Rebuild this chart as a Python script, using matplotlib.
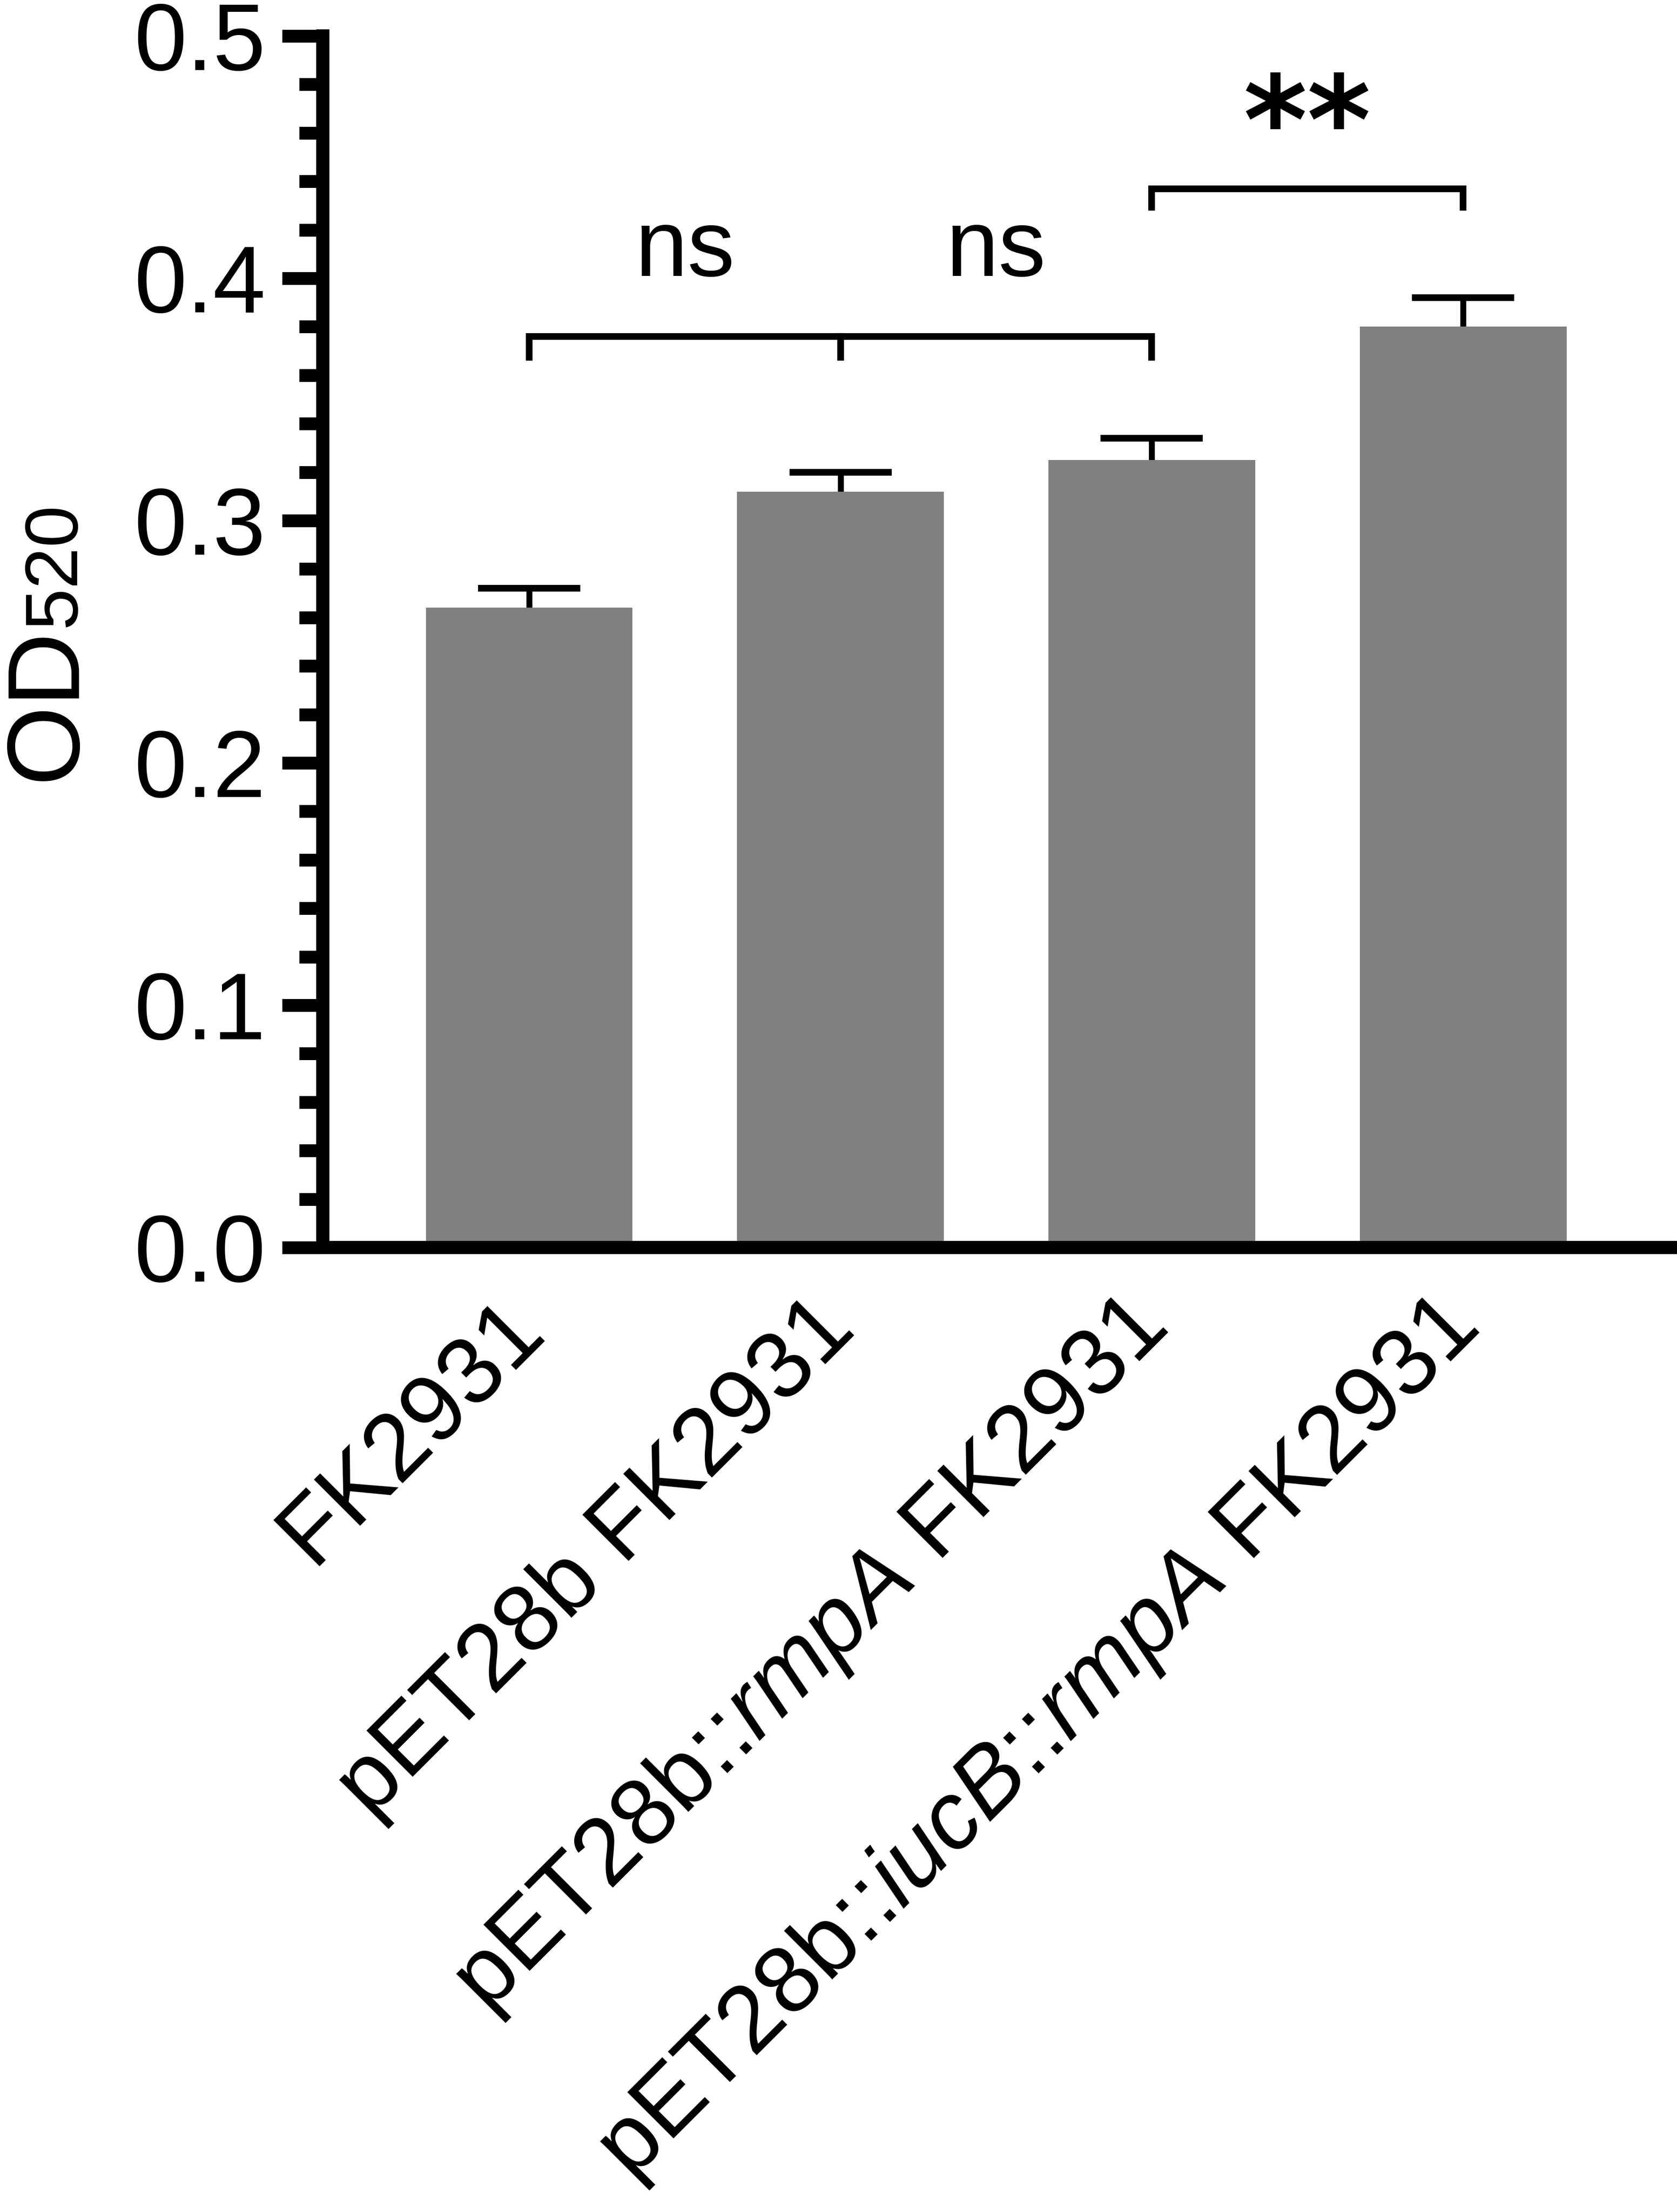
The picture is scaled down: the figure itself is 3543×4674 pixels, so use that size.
import matplotlib
matplotlib.use("Agg")
import matplotlib.pyplot as plt
import numpy as np

plt.rcParams['font.family'] = ['Liberation Sans', 'DejaVu Sans']
plt.rcParams['mathtext.fontset'] = 'custom'
plt.rcParams['mathtext.rm'] = 'Liberation Sans'
plt.rcParams['mathtext.it'] = 'Liberation Sans:italic'
plt.rcParams['mathtext.bf'] = 'Liberation Sans:bold'

# ---- data ----
categories = ['FK2931',
              'pET28b FK2931',
              r'pET28b::$\mathit{rmpA}$ FK2931',
              r'pET28b::$\mathit{iucB}$::$\mathit{rmpA}$ FK2931']
values = [0.264, 0.312, 0.325, 0.380]
errors = [0.008, 0.008, 0.009, 0.012]
yticks = [0.0, 0.1, 0.2, 0.3, 0.4, 0.5]
ytick_labels = ['0.0', '0.1', '0.2', '0.3', '0.4', '0.5']
# significance brackets: (left index, right index, bar height, tip height, label)
comparisons = [(0, 1, 0.376, 0.366, 'ns'),
               (1, 2, 0.376, 0.366, 'ns'),
               (2, 3, 0.437, 0.428, '**')]

W, H, DPI = 3543, 4674, 300
fig = plt.figure(figsize=(W / DPI, H / DPI), dpi=DPI)
left = 682 / W
bottom = 1 - 2636 / H
top = 1 - 76 / H
ax = fig.add_axes([left, bottom, 1.0 - left, top - bottom])

x = np.arange(len(categories))
ax.errorbar(x, values, yerr=errors, fmt='none', ecolor='black',
            elinewidth=3.0, capsize=26, capthick=3.4, zorder=1)
ax.bar(x, values, width=0.664, color='#808080', edgecolor='none', zorder=2)

ax.set_xlim(-0.663, 3.687)
ax.set_ylim(0, 0.5)

for s in ['top', 'right']:
    ax.spines[s].set_visible(False)
for s in ['left', 'bottom']:
    ax.spines[s].set_linewidth(6.7)
    ax.spines[s].set_capstyle('projecting')

ax.set_yticks(yticks)
ax.set_yticklabels(ytick_labels)
ax.set_yticks(np.arange(0, 0.5001, 0.02), minor=True)
ax.tick_params(axis='y', which='major', length=20.6, width=6.5, pad=8.4,
               labelsize=48, direction='out')
ax.tick_params(axis='y', which='minor', length=12, width=6.5, direction='out')

ax.set_xticks(x)
ax.set_xticklabels(categories)
ax.tick_params(axis='x', which='both', length=0, pad=34, labelsize=48)
for lab in ax.get_xticklabels():
    lab.set_rotation(45)
    lab.set_ha('right')
    lab.set_va('center')
    lab.set_rotation_mode('anchor')

# significance brackets
for i, j, yb, yt, txt in comparisons:
    ax.plot([i, i, j, j], [yt, yb, yb, yt], color='black', lw=3.4,
            solid_joinstyle='miter', solid_capstyle='butt', zorder=3)
    if txt == 'ns':
        ax.text((i + j) / 2, yb + 0.025, txt, ha='center', va='baseline',
                fontsize=48)
    else:
        ax.text((i + j) / 2, yb + 0.0245, txt, ha='center', va='center',
                fontsize=62, fontweight='bold', family=['DejaVu Sans'])

# y label: "OD" with "520" smaller on the same baseline
x0 = 158 / W
y0 = 1 - 1650 / H
od = fig.text(x0, y0, 'OD', rotation=90, rotation_mode='anchor',
              ha='left', va='baseline', fontsize=52)
ax.annotate('520', xy=(x0, 1.0), xycoords=('figure fraction', od),
            rotation=90, rotation_mode='anchor', ha='left', va='baseline',
            fontsize=38, annotation_clip=False)

fig.savefig('out.png', dpi=DPI)
